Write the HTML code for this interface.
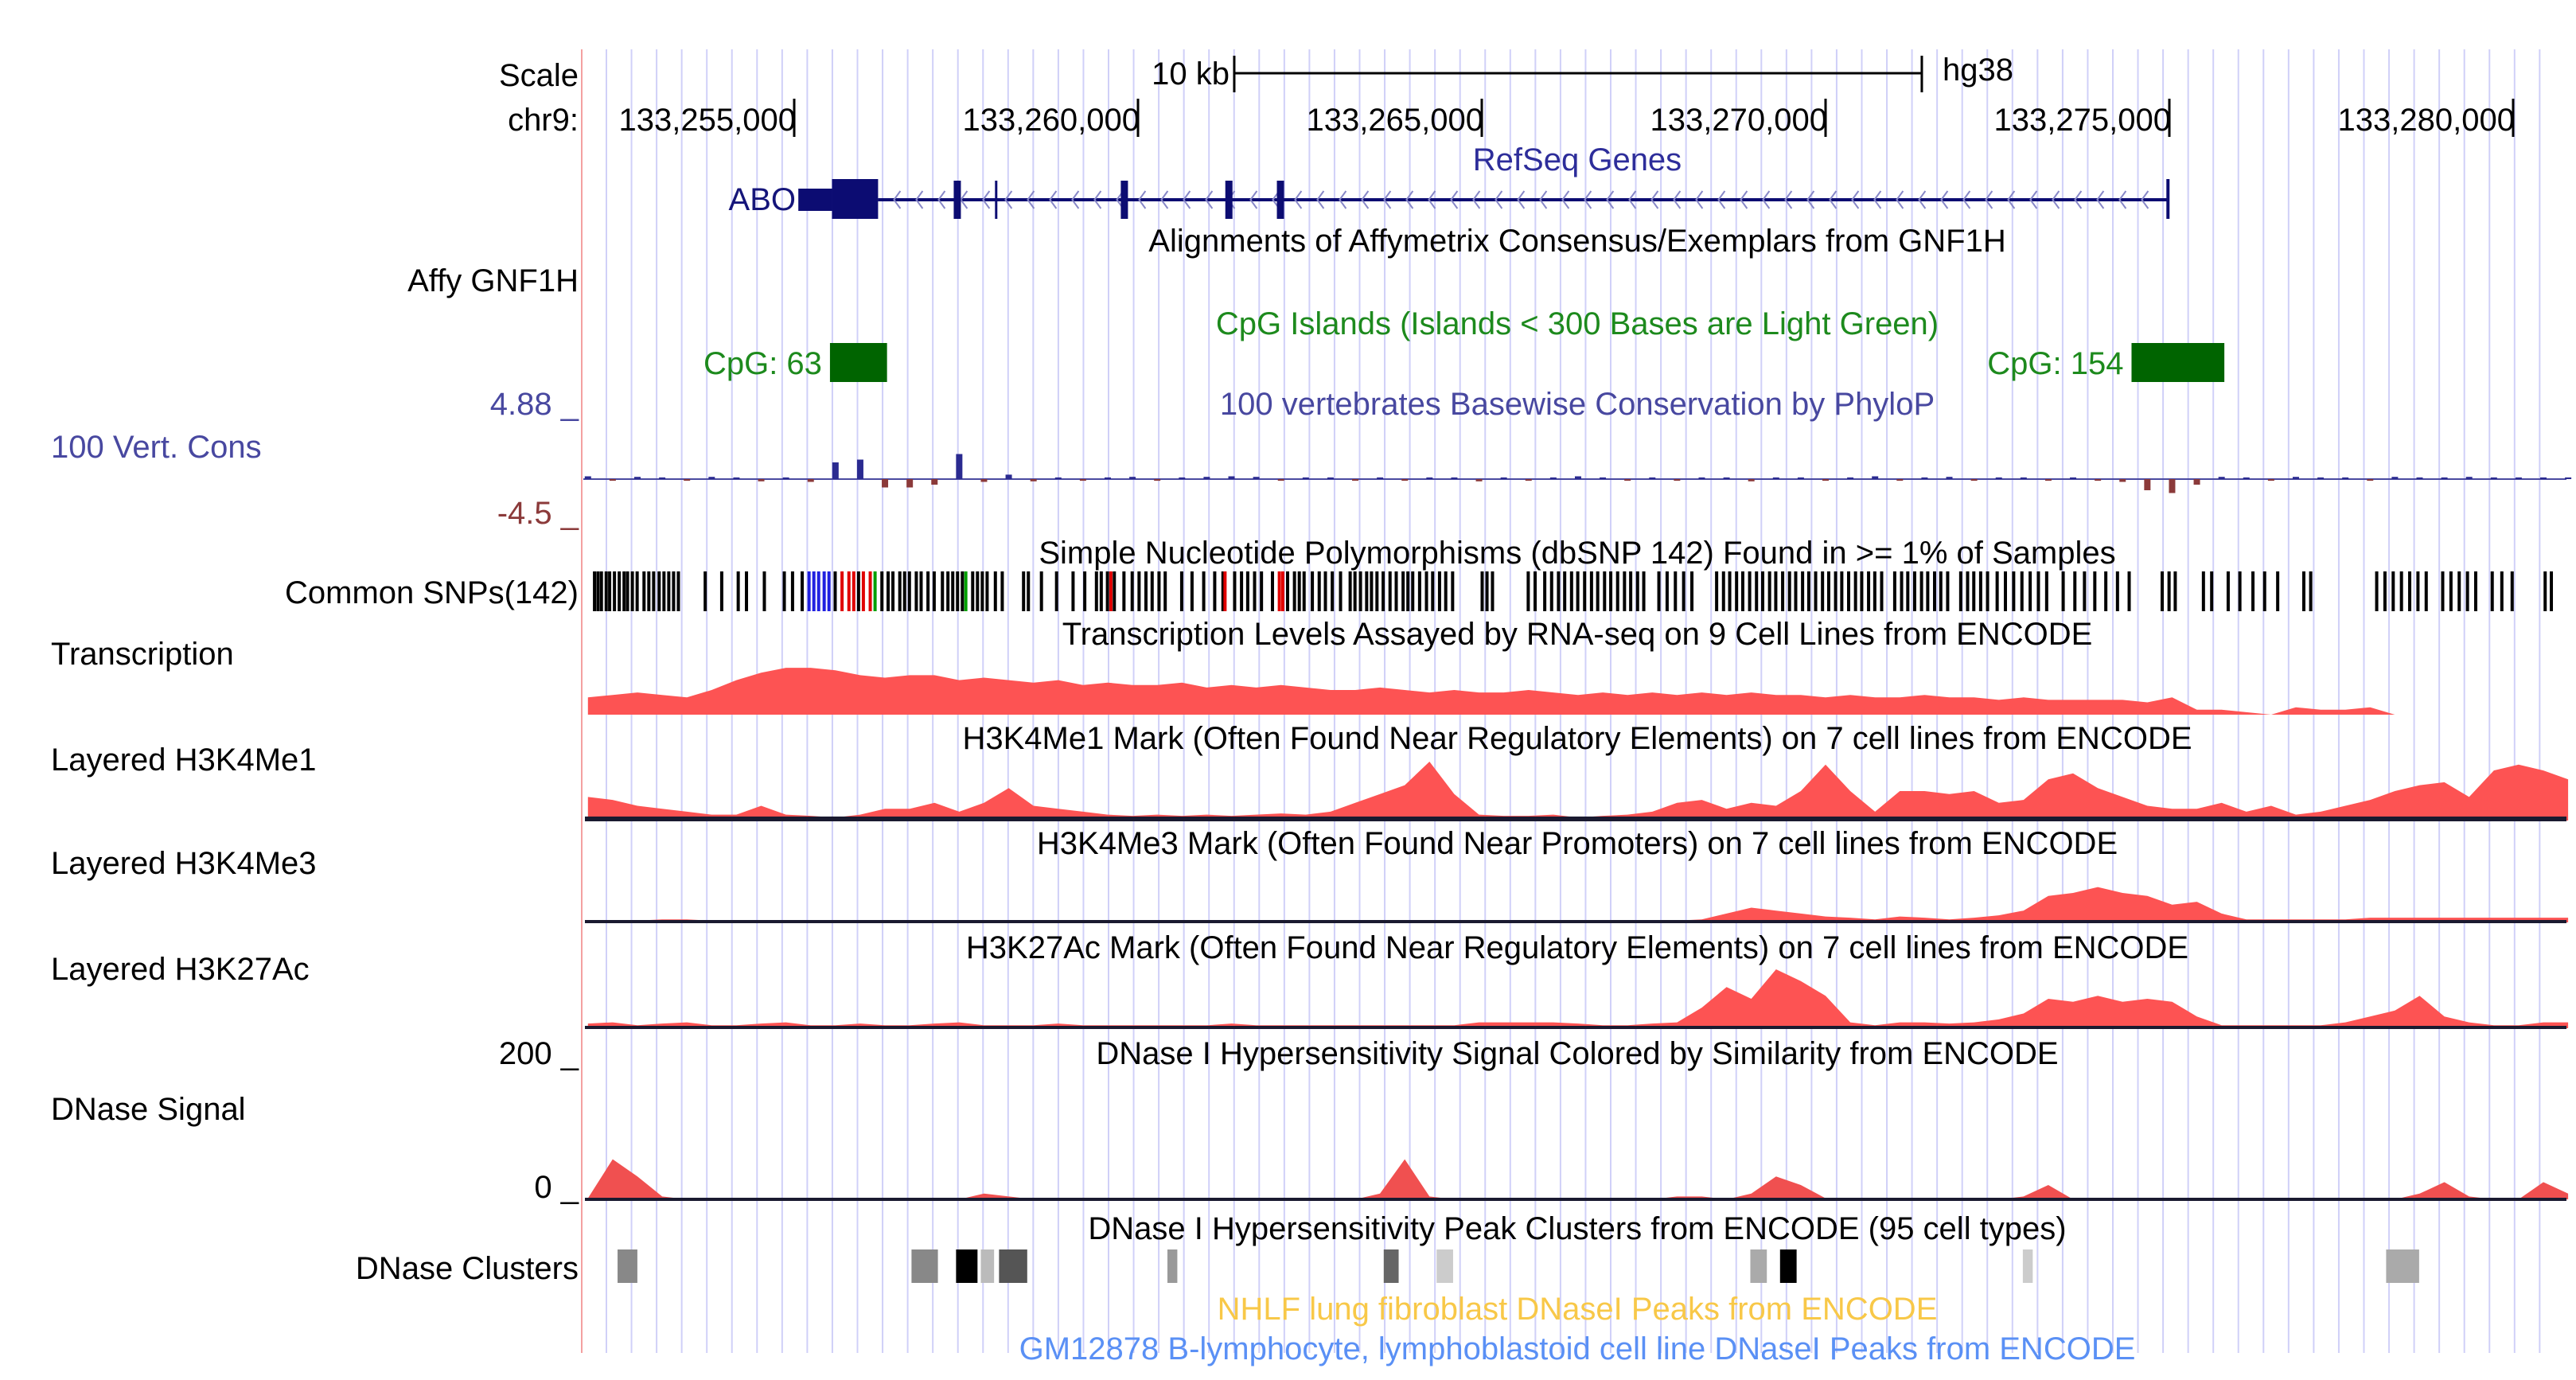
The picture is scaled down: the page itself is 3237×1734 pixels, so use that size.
<!DOCTYPE html>
<html><head><meta charset="utf-8"><style>
html,body{margin:0;padding:0;background:#fff;}
svg{display:block;font-family:"Liberation Sans",Arial,sans-serif;}
</style></head><body>
<svg id="chart" width="3237" height="1734" viewBox="0 0 3237 1734" xmlns="http://www.w3.org/2000/svg"></svg>
<script>
// ---- data ----
const tickPositions = [133255000,133260000,133265000,133270000,133275000,133280000];
const tickLabels = ["133,255,000","133,260,000","133,265,000","133,270,000","133,275,000","133,280,000"];
const scaleBarStart = 133261400;
const scaleBarEnd = 133271400;
const geneUtr = [133255060,133255550];
const geneThick = [133255550,133256220];
const geneExons = [133257320,133259750,133261270,133262020];
const geneThinExons = [133257920];
const geneEnd = 133274980;
const cpgStarts = [133255520,133274450];
const cpgEnds = [133256350,133275800];
const cpgLabels = ["CpG: 63","CpG: 154"];
const binStart = 133252000;
const binStep = 360;
const transcription = [0.35,0.4,0.45,0.4,0.35,0.5,0.7,0.85,0.95,0.95,0.9,0.8,0.75,0.8,0.8,0.7,0.75,0.7,0.65,0.7,0.6,0.65,0.6,0.6,0.65,0.55,0.6,0.55,0.6,0.55,0.5,0.5,0.55,0.5,0.45,0.5,0.45,0.45,0.5,0.45,0.4,0.45,0.4,0.45,0.4,0.45,0.4,0.45,0.4,0.4,0.35,0.4,0.35,0.35,0.4,0.35,0.35,0.3,0.35,0.3,0.3,0.3,0.3,0.25,0.35,0.1,0.1,0.05,0,0.15,0.1,0.1,0.15,0,0,0,0,0,0,0,0];
const h3k4me1 = [0.4,0.35,0.25,0.2,0.15,0.1,0.1,0.25,0.1,0.08,0.05,0.1,0.2,0.2,0.3,0.15,0.3,0.55,0.25,0.2,0.15,0.1,0.08,0.1,0.08,0.1,0.08,0.1,0.12,0.1,0.15,0.3,0.45,0.6,1.0,0.45,0.1,0.08,0.08,0.1,0.05,0.08,0.1,0.15,0.3,0.35,0.2,0.3,0.25,0.5,0.95,0.5,0.15,0.5,0.5,0.45,0.5,0.3,0.35,0.7,0.8,0.55,0.4,0.25,0.2,0.2,0.3,0.15,0.25,0.1,0.15,0.25,0.35,0.5,0.6,0.65,0.4,0.85,0.95,0.85,0.7];
const h3k4me3 = [0.03,0.03,0.03,0.05,0.05,0.03,0.03,0.03,0.03,0.03,0.03,0.03,0.03,0.03,0.03,0.03,0.03,0.03,0.03,0.03,0.03,0.03,0.03,0.03,0.03,0.03,0.03,0.03,0.03,0.03,0.03,0.03,0.03,0.03,0.03,0.03,0.03,0.03,0.03,0.03,0.03,0.03,0.03,0.03,0.03,0.05,0.15,0.25,0.2,0.15,0.1,0.08,0.05,0.1,0.08,0.05,0.08,0.12,0.2,0.45,0.5,0.6,0.5,0.45,0.3,0.35,0.15,0.05,0.05,0.05,0.05,0.05,0.08,0.08,0.08,0.08,0.08,0.08,0.08,0.08,0.08];
const h3k27ac = [0.08,0.1,0.05,0.08,0.1,0.05,0.05,0.08,0.1,0.05,0.05,0.08,0.05,0.05,0.08,0.1,0.05,0.05,0.05,0.08,0.05,0.05,0.05,0.05,0.05,0.05,0.08,0.05,0.05,0.05,0.05,0.05,0.05,0.05,0.05,0.05,0.1,0.1,0.1,0.1,0.08,0.05,0.05,0.08,0.1,0.35,0.7,0.5,1.0,0.8,0.55,0.1,0.05,0.1,0.1,0.08,0.1,0.15,0.25,0.5,0.45,0.55,0.45,0.5,0.45,0.2,0.05,0.05,0.05,0.05,0.05,0.1,0.2,0.3,0.55,0.2,0.1,0.05,0.05,0.1,0.1];
const dnase = [0.02,0.7,0.4,0.05,0,0,0,0,0,0,0,0,0,0,0,0,0.1,0.05,0,0,0,0,0,0,0,0,0,0,0,0,0,0,0.1,0.7,0.05,0,0,0,0,0,0,0,0,0,0.05,0.05,0,0.1,0.4,0.25,0.02,0,0,0,0,0,0,0,0.05,0.25,0,0,0,0,0,0,0,0,0,0,0,0,0,0,0.1,0.3,0.05,0,0,0.3,0.1];
const conservation = [0.05,-0.03,0.04,0.03,-0.03,0.04,0.03,-0.04,0.03,-0.05,0.3,0.35,-0.15,-0.15,-0.1,0.45,-0.05,0.08,-0.04,0.03,-0.03,0.03,0.04,-0.03,0.03,0.04,0.05,0.04,-0.03,0.03,0.03,-0.03,0.03,-0.03,0.03,0.03,-0.04,0.03,-0.03,0.03,0.05,0.03,-0.03,0.03,-0.03,0.03,0.03,-0.04,0.03,0.03,-0.03,0.03,0.05,-0.03,0.03,0.04,-0.03,0.03,0.03,-0.03,0.03,-0.03,-0.05,-0.2,-0.25,-0.1,0.04,0.03,-0.03,0.04,0.03,0.03,-0.03,0.04,0.03,0.03,0.04,0.03,0.03,0.03,0.03];
const snpBlack = [2.09,2.14,2.19,2.26,2.31,2.38,2.45,2.52,2.57,2.64,2.71,2.81,2.88,2.95,3.03,3.10,3.17,3.24,3.31,3.70,3.94,4.18,4.30,4.56,4.85,4.97,5.11,5.59,5.93,6.27,6.36,6.43,6.53,6.60,6.67,6.77,6.84,6.94,7.03,7.15,7.23,7.30,7.37,7.44,7.59,7.66,7.73,7.80,7.92,8.02,8.33,8.40,8.59,8.81,9.05,9.22,9.39,9.46,9.55,9.65,9.79,9.91,10.01,10.11,10.20,10.30,10.39,10.63,10.78,10.95,11.11,11.23,11.40,11.50,11.59,11.69,11.79,11.95,12.17,12.27,12.34,12.41,12.53,12.63,12.72,12.82,12.94,13.08,13.15,13.23,13.32,13.39,13.47,13.56,13.66,13.75,13.85,13.92,13.99,14.09,14.19,14.28,14.38,14.47,14.57,15.00,15.07,15.15,15.67,15.77,15.91,16.01,16.11,16.20,16.30,16.39,16.49,16.59,16.68,16.78,16.87,16.97,17.07,17.16,17.26,17.35,17.57,17.69,17.81,17.93,18.05,18.41,18.51,18.60,18.70,18.79,18.89,18.99,19.08,19.18,19.27,19.37,19.47,19.56,19.66,19.75,19.85,19.95,20.04,20.14,20.23,20.33,20.43,20.52,20.62,20.71,20.81,21.00,21.10,21.19,21.29,21.39,21.48,21.58,21.67,21.77,21.96,22.06,22.15,22.25,22.35,22.49,22.61,22.73,22.85,22.97,23.09,23.21,23.45,23.62,23.76,23.91,24.07,24.24,24.41,24.89,24.99,25.08,25.49,25.61,25.85,26.02,26.21,26.38,26.57,26.95,27.05,28.01,28.13,28.25,28.37,28.49,28.61,28.73,28.97,29.09,29.21,29.33,29.45,29.69,29.83,29.98,30.46,30.55];
const snpBlue = [5.21,5.28,5.35,5.43,5.50];
const snpRed = [5.69,5.79,5.86,6.00,6.10,9.60,11.26,12.05,12.10];
const snpGreen = [6.17,7.49];
const clusterStarts = [133252431,133256706,133257354,133257714,133257979,133260428,133263574,133264343,133268906,133269338,133272869,133278153];
const clusterEnds = [133252719,133257090,133257666,133257907,133258389,133260572,133263791,133264583,133269146,133269579,133273013,133278633];
const clusterShades = [0x88,0x88,0x00,0xbb,0x55,0x99,0x66,0xcc,0xaa,0x00,0xcc,0xaa];

// ---- helpers ----
const svg = document.getElementById('chart');
const NS = 'http://www.w3.org/2000/svg';
const X0 = 998, PXBP = 432/5000, REF = 133255000;
function xs(pos){ return X0 + (pos - REF) * PXBP; }
function el(tag, attrs, parent){ const e=document.createElementNS(NS,tag); for(const k in attrs) e.setAttribute(k,attrs[k]); (parent||svg).appendChild(e); return e; }
function txt(s, x, y, opts){
  const t = el('text', {x:x, y:y, 'font-size':opts.size||40, fill:opts.fill||'#000', 'text-anchor':opts.anchor||'start', 'dominant-baseline':'central'});
  t.textContent = s;
  
  
  return t;
}
const LEFT = 731, RIGHT = 3225;

// grid
const grid = el('g', {});


for (let gx = 762; gx <= 3222; gx += 31.55) {
  el('line', {x1:gx, x2:gx, y1:62, y2:1700, stroke:'#d0d0f8', 'stroke-width':2}, grid);
}
const border = el('line', {x1:LEFT, x2:LEFT, y1:62, y2:1700, stroke:'#f4a0a0', 'stroke-width':2});



// scale row
txt('Scale', 727, 95, {anchor:'end', name:'scale-label'});
txt('10 kb', xs(scaleBarStart) - 6, 93, {anchor:'end', name:'scale-bar-label'});
const sb = el('g', {stroke:'#000', 'stroke-width':3});


el('line', {x1:xs(scaleBarStart), x2:xs(scaleBarEnd), y1:92, y2:92}, sb);
el('line', {x1:xs(scaleBarStart), x2:xs(scaleBarStart), y1:70, y2:116}, sb);
el('line', {x1:xs(scaleBarEnd), x2:xs(scaleBarEnd), y1:70, y2:116}, sb);
txt('hg38', xs(scaleBarEnd) + 26, 88, {name:'assembly-label'});
txt('chr9:', 727, 151, {anchor:'end', name:'chromosome-label'});
tickPositions.forEach((p, i) => {
  const tx = xs(p);
  const tk = el('line', {x1:tx, x2:tx, y1:124, y2:172, stroke:'#000', 'stroke-width':3});
  
  
  txt(tickLabels[i], tx + 2, 151, {anchor:'end', name:'position-tick-label'});
});

// RefSeq
txt('RefSeq Genes', 1982, 201, {fill:'#2d2d9a', anchor:'middle', name:'refseq-title'});
txt('ABO', 1000, 251, {fill:'#15157a', anchor:'end', name:'gene-label-abo'});
const gene = el('g', {fill:'#0c0c72'});


el('rect', {x:xs(geneUtr[0]), y:237, width:xs(geneUtr[1])-xs(geneUtr[0]), height:28}, gene);
el('rect', {x:xs(geneThick[0]), y:225, width:xs(geneThick[1])-xs(geneThick[0]), height:50}, gene);
el('rect', {x:xs(geneThick[1]), y:249, width:xs(geneEnd)-xs(geneThick[1]), height:4}, gene);
for (let cx = xs(geneThick[1]) + 20; cx < xs(geneEnd) - 5; cx += 28) {
  el('polyline', {points:`${cx+8},240 ${cx},251 ${cx+8},262`, fill:'none', stroke:'#8888c8', 'stroke-width':2}, gene);
}
geneExons.forEach(p => el('rect', {x:xs(p), y:227, width:9, height:48}, gene));
geneThinExons.forEach(p => el('rect', {x:xs(p), y:227, width:3, height:48}, gene));
el('rect', {x:xs(geneEnd)-2, y:225, width:4, height:50}, gene);

// Affy
txt('Alignments of Affymetrix Consensus/Exemplars from GNF1H', 1982, 303, {anchor:'middle', name:'affy-title'});
txt('Affy GNF1H', 727, 353, {anchor:'end', name:'affy-label'});

// CpG
txt('CpG Islands (Islands < 300 Bases are Light Green)', 1982, 407, {fill:'#1d8a1d', anchor:'middle', name:'cpg-title'});
cpgStarts.forEach((s, i) => {
  const r = el('rect', {x:xs(s), y:431, width:xs(cpgEnds[i])-xs(s), height:49, fill:'#006400'});
  
  
  txt(cpgLabels[i], xs(s) - 10, 457, {fill:'#1d8a1d', anchor:'end', name:'cpg-island-label'});
});

// conservation
txt('100 vertebrates Basewise Conservation by PhyloP', 1982, 508, {fill:'#4848a0', anchor:'middle', name:'conservation-title'});
txt('4.88 _', 727, 508, {fill:'#4848a0', anchor:'end', name:'conservation-max-label'});
txt('-4.5 _', 727, 645, {fill:'#8b3a3a', anchor:'end', name:'conservation-min-label'});
txt('100 Vert. Cons', 64, 562, {fill:'#4848a0', name:'conservation-label'});
const cons = el('g', {});


const CB = 602, CS = 70;
el('line', {x1:LEFT+2, x2:RIGHT, y1:CB, y2:CB, stroke:'#4a4aa0', 'stroke-width':2}, cons);
conservation.forEach((v, i) => {
  const bx = xs(binStart + i*binStep);
  const h = Math.abs(v) * CS;
  const r = el('rect', {x:bx - 4, width:8, y: v >= 0 ? CB - h : CB, height:h, fill: v >= 0 ? '#2a2a90' : '#8b3a3a'}, cons);
  
});

// SNPs
txt('Simple Nucleotide Polymorphisms (dbSNP 142) Found in >= 1% of Samples', 1982, 695, {anchor:'middle', name:'snp-title'});
txt('Common SNPs(142)', 727, 745, {anchor:'end', name:'snp-label'});
const snpG = el('g', {});


function drawSnps(arr, color){
  arr.forEach(kb => {
    const r = el('rect', {x:xs(133250000 + kb*1000) - 1.5, y:718, width:4, height:50, fill:color}, snpG);
    
    
  });
}
drawSnps(snpBlack, '#000'); drawSnps(snpBlue, '#2020e0'); drawSnps(snpRed, '#e00000'); drawSnps(snpGreen, '#00a000');

// area tracks
function area(vals, base, scale, color, name){
  let pts = `${xs(binStart)},${base} `;
  vals.forEach((v, i) => { pts += `${xs(binStart + i*binStep).toFixed(1)},${(base - v*scale).toFixed(1)} `; });
  pts += `${xs(binStart + (vals.length-1)*binStep)},${base}`;
  const p = el('polygon', {points:pts, fill:color});
  
  
  return p;
}
function baseline(y, name, w){
  const l = el('rect', {x:LEFT+4, y:y-(w||5), width:RIGHT-LEFT-4, height:w||5, fill:'#1a1a30'});
  
  
}

txt('Transcription Levels Assayed by RNA-seq on 9 Cell Lines from ENCODE', 1982, 797, {anchor:'middle', name:'transcription-title'});
txt('Transcription', 64, 822, {name:'transcription-label'});
area(transcription, 898, 62, '#fd5353', 'transcription-area');

txt('H3K4Me1 Mark (Often Found Near Regulatory Elements) on 7 cell lines from ENCODE', 1982, 928, {anchor:'middle', name:'h3k4me1-title'});
txt('Layered H3K4Me1', 64, 955, {name:'h3k4me1-label'});
area(h3k4me1, 1031, 74, '#fd5353', 'h3k4me1-area');
baseline(1032, 'h3k4me1-baseline', 6);

txt('H3K4Me3 Mark (Often Found Near Promoters) on 7 cell lines from ENCODE', 1982, 1060, {anchor:'middle', name:'h3k4me3-title'});
txt('Layered H3K4Me3', 64, 1085, {name:'h3k4me3-label'});
area(h3k4me3, 1159, 74, '#fd5353', 'h3k4me3-area');
baseline(1160, 'h3k4me3-baseline', 4);

txt('H3K27Ac Mark (Often Found Near Regulatory Elements) on 7 cell lines from ENCODE', 1982, 1191, {anchor:'middle', name:'h3k27ac-title'});
txt('Layered H3K27Ac', 64, 1218, {name:'h3k27ac-label'});
area(h3k27ac, 1292, 74, '#fd5353', 'h3k27ac-area');
baseline(1293, 'h3k27ac-baseline', 4);

txt('DNase I Hypersensitivity Signal Colored by Similarity from ENCODE', 1982, 1324, {anchor:'middle', name:'dnase-signal-title'});
txt('200 _', 727, 1324, {anchor:'end', name:'dnase-max-label'});
txt('0 _', 727, 1492, {anchor:'end', name:'dnase-min-label'});
txt('DNase Signal', 64, 1394, {name:'dnase-signal-label'});
area(dnase, 1507, 72, '#f05050', 'dnase-signal-area');
baseline(1509, 'dnase-baseline', 4);

txt('DNase I Hypersensitivity Peak Clusters from ENCODE (95 cell types)', 1982, 1544, {anchor:'middle', name:'dnase-clusters-title'});
txt('DNase Clusters', 727, 1594, {anchor:'end', name:'dnase-clusters-label'});
clusterStarts.forEach((s, i) => {
  const c = clusterShades[i].toString(16).padStart(2, '0');
  const r = el('rect', {x:xs(s), y:1570, width:xs(clusterEnds[i])-xs(s), height:42, fill:'#'+c+c+c});
  
  
});
txt('NHLF lung fibroblast DNaseI Peaks from ENCODE', 1982, 1645, {fill:'#f8c848', anchor:'middle', name:'nhlf-title'});
txt('GM12878 B-lymphocyte, lymphoblastoid cell line DNaseI Peaks from ENCODE', 1982, 1695, {fill:'#5a90f5', anchor:'middle', name:'gm12878-title'});
</script>
</body></html>
